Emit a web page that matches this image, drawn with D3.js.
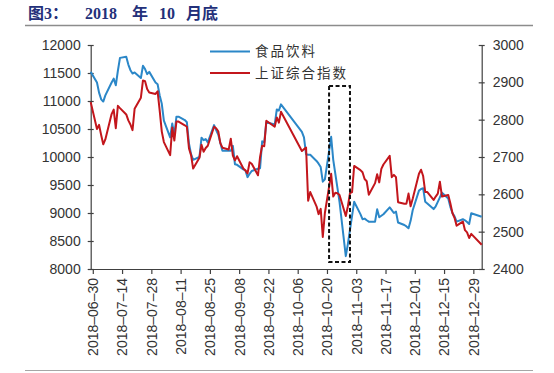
<!DOCTYPE html>
<html>
<head>
<meta charset="utf-8">
<script src="https://cdn.jsdelivr.net/npm/d3@7"></script>
<style>
body { margin: 0; background: #fff; }
svg { display: block; }
</style>
</head>
<body>
<div id="chart"></div>
<script>
var width = 554;
var height = 373;

var seriesNames = ["食品饮料", "上证综合指数"];

var dates = [
	"2018-06-29",
	"2018-07-02","2018-07-03","2018-07-04","2018-07-05","2018-07-06",
	"2018-07-09","2018-07-10","2018-07-11","2018-07-12","2018-07-13",
	"2018-07-16","2018-07-17","2018-07-18","2018-07-19","2018-07-20",
	"2018-07-23","2018-07-24","2018-07-25","2018-07-26","2018-07-27",
	"2018-07-30","2018-07-31","2018-08-01","2018-08-02","2018-08-03",
	"2018-08-06","2018-08-07","2018-08-08","2018-08-09","2018-08-10",
	"2018-08-13","2018-08-14","2018-08-15","2018-08-16","2018-08-17",
	"2018-08-20","2018-08-21","2018-08-22","2018-08-23","2018-08-24",
	"2018-08-27","2018-08-28","2018-08-29","2018-08-30","2018-08-31",
	"2018-09-03","2018-09-04","2018-09-05","2018-09-06","2018-09-07",
	"2018-09-10","2018-09-11","2018-09-12","2018-09-13","2018-09-14",
	"2018-09-17","2018-09-18","2018-09-19","2018-09-20","2018-09-21",
	"2018-09-25","2018-09-26","2018-09-27","2018-09-28",
	"2018-10-08","2018-10-09","2018-10-10","2018-10-11","2018-10-12",
	"2018-10-15","2018-10-16","2018-10-17","2018-10-18","2018-10-19",
	"2018-10-22","2018-10-23","2018-10-24","2018-10-25","2018-10-26",
	"2018-10-29","2018-10-30","2018-10-31","2018-11-01","2018-11-02",
	"2018-11-05","2018-11-06","2018-11-07","2018-11-08","2018-11-09",
	"2018-11-12","2018-11-13","2018-11-14","2018-11-15","2018-11-16",
	"2018-11-19","2018-11-20","2018-11-21","2018-11-22","2018-11-23",
	"2018-11-26","2018-11-27","2018-11-28","2018-11-29","2018-11-30",
	"2018-12-03","2018-12-04","2018-12-05","2018-12-06","2018-12-07",
	"2018-12-10","2018-12-11","2018-12-12","2018-12-13","2018-12-14",
	"2018-12-17","2018-12-18","2018-12-19","2018-12-20","2018-12-21",
	"2018-12-24","2018-12-25","2018-12-26","2018-12-27","2018-12-28",
	"2019-01-02"
];

// 食品饮料 (left axis)
var foodValues = [
	11520,
	11330, 11150, 11030, 10990, 11100,
	11330, 11400, 11280, 11540, 11770,
	11790, 11650, 11550, 11490, 11510,
	11410, 11630, 11570, 11480, 11520,
	11330, 11300, 11100, 10950, 10650,
	10350, 10600, 10390, 10720, 10720,
	10660, 10620, 10240, 10050, 9950,
	10000, 10345, 10300, 10320, 10260,
	10570, 10480, 10400, 10250, 10110,
	10110, 10110, 10200, 9870, 9860,
	9780, 9760, 9640, 9700, 9750,
	9790, 9800, 10280, 10260, 10620,
	10580, 10850, 10830, 10940,
	10450, 10350, 10050, 10040, 10040,
	9930, 9880, 9820, 9560, 9600,
	10360, 9950, 9700, 9450, 9200,
	8230, 8450, 8700, 8950, 9200,
	8980, 8890, 8900, 8870, 8845,
	8845, 9066, 8923, 8950, 8977,
	9100, 9050, 9000, 9024, 8830,
	8786, 8760, 8727, 8860, 9050,
	9400, 9430, 9441, 9200, 9170,
	9070, 9120, 9200, 9280, 9363,
	9260, 9110, 9000, 8940, 8845,
	8888, 8870, 8840, 8804, 8995,
	8934
];

// 上证综合指数 (right axis)
var sseValues = [
	2847,
	2775, 2786, 2759, 2734, 2747,
	2815, 2827, 2777, 2837, 2831,
	2814, 2798, 2787, 2772, 2829,
	2859, 2905, 2903, 2882, 2873,
	2869, 2876, 2824, 2768, 2740,
	2705, 2779, 2744, 2795, 2795,
	2785, 2781, 2723, 2705, 2669,
	2698, 2733, 2714, 2724, 2730,
	2781, 2777, 2769, 2737, 2725,
	2720, 2749, 2704, 2691, 2702,
	2669, 2664, 2656, 2686, 2682,
	2651, 2700, 2730, 2729, 2797,
	2781, 2806, 2792, 2821,
	2716, 2721, 2725, 2583, 2606,
	2568, 2547, 2561, 2486, 2550,
	2655, 2594, 2604, 2603, 2598,
	2542, 2568, 2603, 2606, 2676,
	2665, 2659, 2641, 2635, 2599,
	2630, 2654, 2632, 2668, 2680,
	2703, 2646, 2652, 2646, 2579,
	2575, 2575, 2602, 2568, 2588,
	2655, 2666, 2649, 2606, 2606,
	2585, 2594, 2602, 2634, 2594,
	2598, 2576, 2550, 2537, 2516,
	2527, 2504, 2498, 2483, 2494,
	2465
];

var leftTicks = [8000, 8500, 9000, 9500, 10000, 10500, 11000, 11500, 12000];
var rightTicks = [2400, 2500, 2600, 2700, 2800, 2900, 3000];
var xTickLabels = ["2018-06-30", "2018-07-14", "2018-07-28", "2018-08-11", "2018-08-25",
	"2018-09-08", "2018-09-22", "2018-10-06", "2018-10-20", "2018-11-03",
	"2018-11-17", "2018-12-01", "2018-12-15", "2018-12-29"];

// title pieces
var titleParts = ["图3：", "2018", "年", "10", "月底"];

// highlighted window (dates, left-axis values)
var boxDates = ["2018-10-21", "2018-10-31"];
var boxValues = [11270, 8125];

var parse = d3.timeParse("%Y-%m-%d");
var fmt = d3.timeFormat("%Y–%m–%d");

var food = dates.map(function(d, i) { return {date: parse(d), value: foodValues[i]}; });
var sse = dates.map(function(d, i) { return {date: parse(d), value: sseValues[i]}; });

var plotLeft = 90.7, plotRight = 481.7, plotTop = 45, plotBottom = 269;

var x = d3.scaleTime()
	.domain(d3.extent(dates, parse))
	.range([plotLeft, plotRight]);
var yLeft = d3.scaleLinear().domain([8000, 12000]).range([plotBottom, plotTop]);
var yRight = d3.scaleLinear().domain([2400, 3000]).range([plotBottom, plotTop]);

var svg = d3.select("#chart").append("svg")
	.attr("width", width)
	.attr("height", height);

// title
var title = svg.append("text")
	.attr("y", 19)
	.attr("fill", "#23307a")
	.attr("font-weight", "bold")
	.attr("font-size", 16)
	.attr("font-family", "'Liberation Serif', 'Noto Sans CJK SC', serif");
var titleX = [28, 85, 132, 159, 186];
titleParts.forEach(function(t, i) {
	title.append("tspan").attr("x", titleX[i]).text(t);
});

svg.append("line")
	.attr("x1", 25).attr("x2", 533)
	.attr("y1", 25.5).attr("y2", 25.5)
	.attr("stroke", "#8c8c8c").attr("stroke-width", 1.5);
svg.append("line")
	.attr("x1", 25).attr("x2", 533)
	.attr("y1", 370.5).attr("y2", 370.5)
	.attr("stroke", "#a6a6a6").attr("stroke-width", 1.2);

var axisColor = "#404040";
var labelFont = "'Liberation Sans', Arial, sans-serif";

function styleAxis(g) {
	g.select(".domain").attr("stroke", axisColor).attr("stroke-width", 1.2);
	g.selectAll(".tick line").attr("stroke", axisColor).attr("stroke-width", 1.2);
	g.selectAll(".tick text")
		.attr("fill", "#333")
		.attr("font-size", 14)
		.attr("font-family", labelFont);
}

var gLeft = svg.append("g")
	.attr("transform", "translate(" + plotLeft + ",0)")
	.call(d3.axisLeft(yLeft).tickValues(leftTicks).tickFormat(d3.format("d"))
		.tickSize(3).tickPadding(7).tickSizeOuter(0));
gLeft.selectAll(".tick line").attr("x1", 3);
styleAxis(gLeft);

var gRight = svg.append("g")
	.attr("transform", "translate(" + plotRight + ",0)")
	.call(d3.axisRight(yRight).tickValues(rightTicks).tickFormat(d3.format("d"))
		.tickSize(3).tickPadding(8).tickSizeOuter(0));
gRight.selectAll(".tick line").attr("x1", -3);
styleAxis(gRight);

var gBottom = svg.append("g")
	.attr("transform", "translate(0," + plotBottom + ")")
	.call(d3.axisBottom(x).tickValues(xTickLabels.map(parse)).tickFormat(fmt).tickSize(5).tickSizeOuter(0));
styleAxis(gBottom);
gBottom.selectAll(".tick text")
	.attr("transform", "rotate(-90)")
	.attr("text-anchor", "end")
	.attr("x", -9)
	.attr("y", 0)
	.attr("dy", "0.35em");

// lines
var lineLeft = d3.line()
	.x(function(d) { return x(d.date); })
	.y(function(d) { return yLeft(d.value); });
var lineRight = d3.line()
	.x(function(d) { return x(d.date); })
	.y(function(d) { return yRight(d.value); });

var blue = "#2b87c8";
var red = "#c3161c";

svg.append("path")
	.datum(food)
	.attr("fill", "none")
	.attr("stroke", blue)
	.attr("stroke-width", 2)
	.attr("stroke-linejoin", "round")
	.attr("d", lineLeft);

svg.append("path")
	.datum(sse)
	.attr("fill", "none")
	.attr("stroke", red)
	.attr("stroke-width", 2)
	.attr("stroke-linejoin", "round")
	.attr("d", lineRight);

// dashed highlight box
var bx0 = x(parse(boxDates[0])), bx1 = x(parse(boxDates[1]));
var by0 = yLeft(boxValues[0]), by1 = yLeft(boxValues[1]);
svg.append("rect")
	.attr("x", bx0)
	.attr("y", by0)
	.attr("width", bx1 - bx0)
	.attr("height", by1 - by0)
	.attr("fill", "none")
	.attr("stroke", "#111")
	.attr("stroke-width", 2)
	.attr("stroke-dasharray", "4,2.5");

// legend
var legend = svg.append("g");
[blue, red].forEach(function(c, i) {
	var ly = 51.5 + i * 21.5;
	legend.append("line")
		.attr("x1", 210).attr("x2", 250)
		.attr("y1", ly).attr("y2", ly)
		.attr("stroke", c).attr("stroke-width", 2);
	legend.append("text")
		.attr("x", 255)
		.attr("y", ly)
		.attr("dy", "0.36em")
		.attr("fill", "#333")
		.attr("font-size", 13.5)
		.attr("letter-spacing", 2)
		.attr("font-family", "'Noto Sans CJK SC', sans-serif")
		.text(seriesNames[i]);
});
</script>
</body>
</html>
